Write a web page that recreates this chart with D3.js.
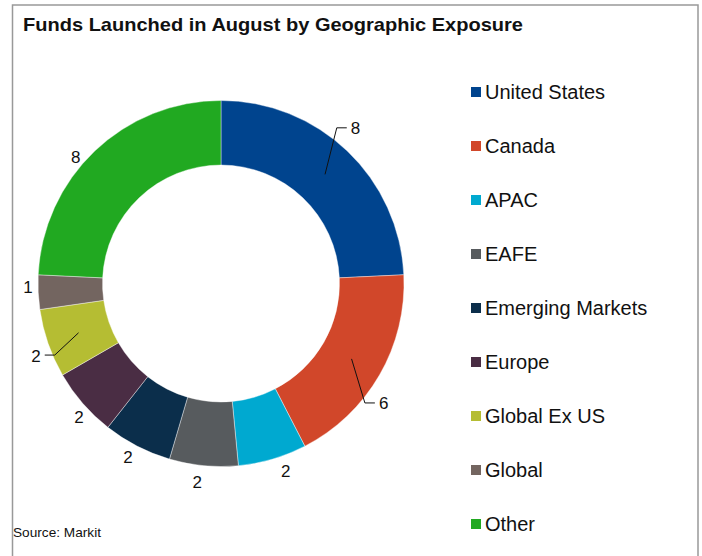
<!DOCTYPE html>
<html>
<head>
<meta charset="utf-8">
<script src="https://cdn.jsdelivr.net/npm/d3@7"></script>
<style>
html,body{margin:0;padding:0;background:#fff;}
svg{display:block;}
text{font-family:"Liberation Sans",Arial,sans-serif;fill:#111;}
</style>
</head>
<body>
<svg id="chart" width="702" height="556"></svg>
<script>
const categories = ["United States","Canada","APAC","EAFE","Emerging Markets","Europe","Global Ex US","Global","Other"];
const values = [8,6,2,2,2,2,2,1,8];
const colors = ["#00448E","#D1472A","#00A9D0","#575B5E","#0B2E4B","#4A2D44","#B5BD33","#736560","#21A921"];
// label placement: angular shift (deg) from slice middle and radius; leader lines where flagged
const labelShift = [-7, 9.7, -2.6, 1.4, 0.9, -2.3, -4.2, 1.4, -5.5];
const labelRadius = [194, 187, 199, 200, 197, 195, 181, 193, 192];
const hasLeader = [true, true, false, false, false, false, true, false, false];
const titleText = "Funds Launched in August by  Geographic Exposure";
const sourceText = "Source: Markit";

const svg = d3.select("#chart");
const W = 702, H = 556;

svg.append("path")
  .attr("d", `M12.5,${H+2} L12.5,5 L698,5 L698,${H+2}`)
  .attr("fill","none").attr("stroke","#999").attr("stroke-width",1.5);

svg.append("text").attr("x",23).attr("y",31)
  .attr("font-size",19).attr("font-weight","bold")
  .attr("textLength",500).attr("lengthAdjust","spacingAndGlyphs")
  .text(titleText);

svg.append("text").attr("x",13).attr("y",537)
  .attr("font-size",13.5).attr("textLength",88).attr("lengthAdjust","spacingAndGlyphs")
  .text(sourceText);

const cx = 221, cy = 283.5, rOuter = 183, rInner = 118.5;
const g = svg.append("g").attr("transform",`translate(${cx},${cy})`);

const pie = d3.pie().sort(null).value(d => d.v);
const data = categories.map((c,i)=>({c, v:values[i], col:colors[i], i}));
const arcs = pie(data);
const arc = d3.arc().innerRadius(rInner).outerRadius(rOuter);

g.selectAll("path.slice").data(arcs).join("path")
  .attr("class","slice")
  .attr("d",arc)
  .attr("fill",d=>d.data.col)
  .attr("stroke","#fff").attr("stroke-width",0.4);

const rad = a => a*Math.PI/180;
const pt = (ang, r) => [r*Math.sin(ang), -r*Math.cos(ang)];

arcs.forEach(d=>{
  const i = d.data.i;
  const mid = (d.startAngle + d.endAngle)/2;
  const p1 = pt(mid + rad(labelShift[i]), labelRadius[i]);
  if (hasLeader[i]) {
    const p0 = pt(mid, (rInner+rOuter)/2);
    const dir = Math.sin(mid) >= 0 ? 1 : -1;
    const p2 = [p1[0] + dir*10, p1[1]];
    g.append("path").attr("d",`M${p0[0]},${p0[1]} L${p1[0]},${p1[1]} L${p2[0]},${p2[1]}`)
      .attr("fill","none").attr("stroke","#111").attr("stroke-width",1);
    g.append("text").attr("x",p2[0] + dir*4).attr("y",p2[1]+1)
      .attr("text-anchor", dir>0 ? "start":"end")
      .attr("dominant-baseline","central")
      .attr("font-size",17).text(d.data.v);
  } else {
    g.append("text").attr("x",p1[0]).attr("y",p1[1])
      .attr("text-anchor","middle").attr("dominant-baseline","central")
      .attr("font-size",17).text(d.data.v);
  }
});

const ly = d3.scalePoint().domain(categories).range([92,524]);
const leg = svg.append("g");
categories.forEach((c,i)=>{
  leg.append("rect").attr("x",471).attr("y",ly(c)-5).attr("width",10).attr("height",10).attr("fill",colors[i]);
  leg.append("text").attr("x",485).attr("y",ly(c)+7).attr("font-size",20).text(c);
});
</script>
</body>
</html>
